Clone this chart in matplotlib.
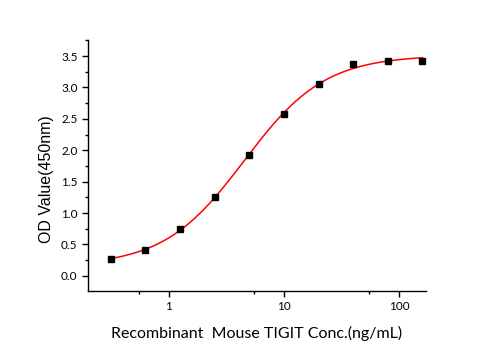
import numpy as np
import matplotlib.pyplot as plt
from matplotlib.ticker import FixedLocator, MultipleLocator, NullFormatter

# data
conc = np.array([0.3125, 0.625, 1.25, 2.5, 5, 10, 20, 40, 80, 160])
od = np.array([0.27, 0.41, 0.75, 1.26, 1.92, 2.58, 3.05, 3.38, 3.42, 3.42])
x_major = [1, 10, 100]
x_minor = [0.55, 5.5, 55]


def logistic4(x, p):
    a, d, c, b = p
    return d + (a - d) / (1 + (x / c) ** b)


# small Levenberg-Marquardt fit of the 4PL curve
p = np.array([0.15, 3.5, 5.0, 1.2])
lam = 1e-2
for _ in range(200):
    r = od - logistic4(conc, p)
    J = np.zeros((len(conc), 4))
    for k in range(4):
        dp = np.zeros(4)
        dp[k] = 1e-6 * max(abs(p[k]), 1)
        J[:, k] = (logistic4(conc, p + dp) - logistic4(conc, p)) / dp[k]
    A = J.T @ J
    step = np.linalg.solve(A + lam * np.diag(np.diag(A)), J.T @ r)
    p_new = p + step
    if np.sum((od - logistic4(conc, p_new)) ** 2) < np.sum(r ** 2):
        p = p_new
        lam *= 0.5
    else:
        lam *= 4

xs = np.logspace(np.log10(conc[0]), np.log10(conc[-1]), 300)

plt.rcParams['font.family'] = ['Lato', 'DejaVu Sans']

fig = plt.figure(figsize=(4.95, 3.5), dpi=100)
ax = fig.add_axes([0.1778, 0.1686, 0.6828, 0.7171])
ax.plot(xs, logistic4(xs, p), color='#ff0000', lw=1.1, zorder=2)
ax.plot(conc, od, 's', color='black', ms=5, zorder=3)

ax.set_xscale('log')
ax.set_xlim(0.198, 172)
ax.set_ylim(-0.24, 3.755)
ax.xaxis.set_major_locator(FixedLocator(x_major))
ax.xaxis.set_minor_locator(FixedLocator(x_minor))
ax.xaxis.set_minor_formatter(NullFormatter())
ax.set_xticklabels(['1', '10', '100'])
ax.yaxis.set_major_locator(MultipleLocator(0.5))
ax.yaxis.set_minor_locator(MultipleLocator(0.25))
ax.yaxis.set_major_formatter(plt.FormatStrFormatter('%.1f'))

for s in ['top', 'right']:
    ax.spines[s].set_visible(False)
for s in ['left', 'bottom']:
    ax.spines[s].set_linewidth(1.0)
ax.tick_params(which='major', direction='out', length=4, width=1, labelsize=8.5)
ax.tick_params(which='minor', direction='out', length=2.5, width=1)

ax.set_ylabel('OD Value(450nm)', fontsize=11.5,
              family=['Liberation Sans', 'DejaVu Sans'])
ax.yaxis.set_label_coords(-0.10, 0.446)
ax.set_xlabel('Recombinant  Mouse TIGIT Conc.(ng/mL)', fontsize=11.5, labelpad=10)

fig.savefig('out.png', dpi=100)
